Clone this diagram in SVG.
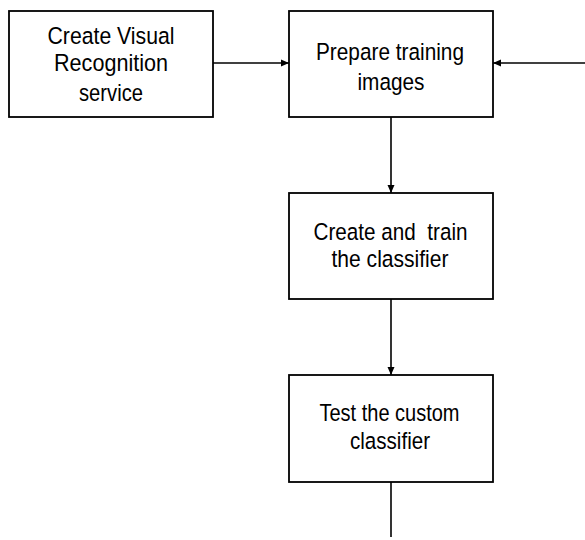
<svg xmlns="http://www.w3.org/2000/svg" width="585" height="540" viewBox="0 0 585 540">
<defs>
<style>
.box{fill:#fff;stroke:#000;stroke-width:1.8}
.lbl{font-family:"Liberation Sans",Arial,sans-serif;font-size:24.5px;fill:#000;text-anchor:middle;white-space:pre}
.edge{fill:none;stroke:#000;stroke-width:1.6}
</style>
<marker id="arr" viewBox="0 0 8 8" refX="8" refY="4" markerWidth="8" markerHeight="8" markerUnits="userSpaceOnUse" orient="auto">
<path d="M0,0.5 L8,4 L0,7.5 Z" fill="#000"/>
</marker>
</defs>
<rect width="585" height="540" fill="#fff"/>
<g id="connectors">
<line class="edge" x1="213" y1="63" x2="289" y2="63" marker-end="url(#arr)"/>
<line class="edge" x1="585" y1="63" x2="493" y2="63" marker-end="url(#arr)"/>
<line class="edge" x1="391" y1="117" x2="391" y2="193" marker-end="url(#arr)"/>
<line class="edge" x1="391" y1="299" x2="391" y2="375" marker-end="url(#arr)"/>
<line class="edge" x1="391" y1="482" x2="391" y2="537"/>
</g>
<g id="node-create-service">
<rect class="box" x="9" y="11" width="204" height="106"/>
<text class="lbl" x="111" y="44" textLength="127" lengthAdjust="spacingAndGlyphs">Create Visual</text>
<text class="lbl" x="111" y="71" textLength="114" lengthAdjust="spacingAndGlyphs">Recognition</text>
<text class="lbl" x="111" y="101" textLength="64" lengthAdjust="spacingAndGlyphs">service</text>
</g>
<g id="node-prepare">
<rect class="box" x="289" y="11" width="204" height="106"/>
<text class="lbl" x="390" y="59.5" textLength="148" lengthAdjust="spacingAndGlyphs">Prepare training</text>
<text class="lbl" x="391" y="89.5" textLength="67" lengthAdjust="spacingAndGlyphs">images</text>
</g>
<g id="node-train">
<rect class="box" x="289" y="193" width="204" height="106"/>
<text class="lbl" x="390.5" y="239.5" textLength="154" lengthAdjust="spacingAndGlyphs">Create and  train</text>
<text class="lbl" x="390" y="266.5" textLength="117" lengthAdjust="spacingAndGlyphs">the classifier</text>
</g>
<g id="node-test">
<rect class="box" x="289" y="375" width="204" height="107"/>
<text class="lbl" x="389.5" y="420.5" textLength="140" lengthAdjust="spacingAndGlyphs">Test the custom</text>
<text class="lbl" x="390" y="448.5" textLength="80" lengthAdjust="spacingAndGlyphs">classifier</text>
</g>
</svg>
